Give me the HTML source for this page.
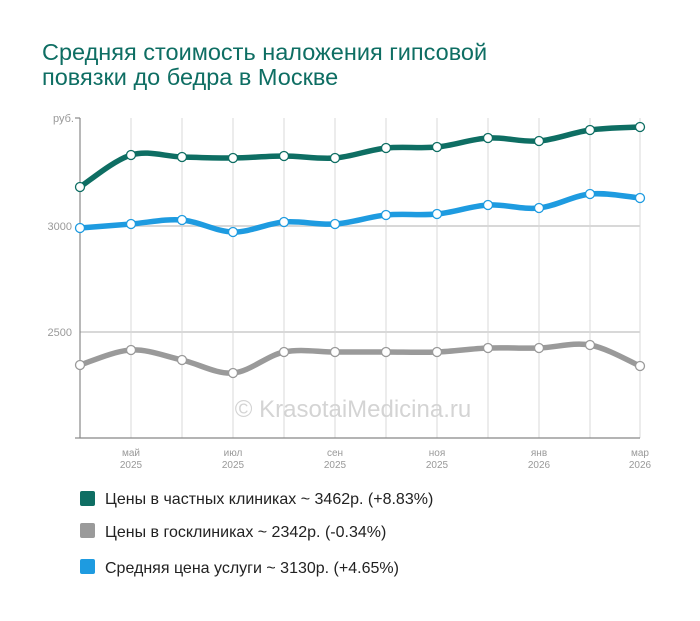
<!DOCTYPE html>
<html><head><meta charset="utf-8"><style>
body{margin:0;background:#fff;width:700px;height:616px;overflow:hidden;font-family:"Liberation Sans",Arial,sans-serif}
</style></head><body>
<svg id="s" width="700" height="616" xmlns="http://www.w3.org/2000/svg" font-family="Liberation Sans, Arial, sans-serif">
<text x="42" y="60" font-size="23.5" fill="#0e6e63">Средняя стоимость наложения гипсовой</text>
<text x="42" y="85" font-size="23.5" fill="#0e6e63">повязки до бедра в Москве</text>
<g stroke="#d8d8d8" stroke-width="1">
<line x1="80" y1="226" x2="640" y2="226" stroke-width="2"/>
<line x1="80" y1="332" x2="640" y2="332" stroke-width="2"/>
<line x1="131" y1="118" x2="131" y2="438"/><line x1="182" y1="118" x2="182" y2="438"/>
<line x1="233" y1="118" x2="233" y2="438"/><line x1="284" y1="118" x2="284" y2="438"/>
<line x1="335" y1="118" x2="335" y2="438"/><line x1="386" y1="118" x2="386" y2="438"/>
<line x1="437" y1="118" x2="437" y2="438"/><line x1="488" y1="118" x2="488" y2="438"/>
<line x1="539" y1="118" x2="539" y2="438"/><line x1="590" y1="118" x2="590" y2="438"/>
<line x1="640" y1="118" x2="640" y2="438"/>
</g>
<g stroke="#888" stroke-width="1.2">
<line x1="80" y1="118" x2="80" y2="438"/><line x1="80" y1="438" x2="640" y2="438"/>
<line x1="75" y1="118" x2="80" y2="118"/><line x1="75" y1="438" x2="80" y2="438"/>
</g>
<g font-size="11" fill="#999" text-anchor="end">
<text x="74" y="122">руб.</text><text x="72" y="230">3000</text><text x="72" y="336">2500</text>
</g>
<g font-size="10" fill="#999" text-anchor="middle">
<text x="131" y="456">май</text><text x="131" y="468">2025</text>
<text x="233" y="456">июл</text><text x="233" y="468">2025</text>
<text x="335" y="456">сен</text><text x="335" y="468">2025</text>
<text x="437" y="456">ноя</text><text x="437" y="468">2025</text>
<text x="539" y="456">янв</text><text x="539" y="468">2026</text>
<text x="640" y="456">мар</text><text x="640" y="468">2026</text>
</g>
<text x="353" y="417" font-size="24" fill="#d4d4d4" text-anchor="middle">© KrasotaiMedicina.ru</text>
<g id="lines"></g>
<rect x="80" y="491" width="15" height="15" rx="2" fill="#0e6e63"/>
<rect x="80" y="523" width="15" height="15" rx="2" fill="#9a9a9a"/>
<rect x="80" y="559" width="15" height="15" rx="2" fill="#1e9be0"/>
<g font-size="16" fill="#222">
<text x="105" y="504">Цены в частных клиниках ~ 3462р. (+8.83%)</text>
<text x="105" y="537">Цены в госклиниках ~ 2342р. (-0.34%)</text>
<text x="105" y="573">Средняя цена услуги ~ 3130р. (+4.65%)</text>
</g>
</svg>
<script>
var xs=[80,131,182,233,284,335,386,437,488,539,590,640];
var S=[
["#0e6e63",[187,155,157,158,156,158,148,147,138,141,130,127]],
["#1e9be0",[228,224,220,232,222,224,215,214,205,208,194,198]],
["#9a9a9a",[365,350,360,373,352,352,352,352,348,348,345,366]]];
var g=document.getElementById("lines"),h="";
S.forEach(function(s){var y=s[1],d="M"+xs[0]+","+y[0];
for(var i=0;i<11;i++){var p0=i?i-1:0,p3=i<10?i+2:11;
var c1x=xs[i]+(xs[i+1]-xs[p0])/6,c1y=y[i]+(y[i+1]-y[p0])/6,
c2x=xs[i+1]-(xs[p3]-xs[i])/6,c2y=y[i+1]-(y[p3]-y[i])/6;
d+=" C"+c1x+","+c1y+" "+c2x+","+c2y+" "+xs[i+1]+","+y[i+1];}
h+='<path d="'+d+'" fill="none" stroke="'+s[0]+'" stroke-width="5.5"/>';
for(var i=0;i<12;i++)h+='<circle cx="'+xs[i]+'" cy="'+y[i]+'" r="4.5" fill="#fff" stroke="'+s[0]+'" stroke-width="1.3"/>';});
g.innerHTML=h;
</script>
</body></html>
